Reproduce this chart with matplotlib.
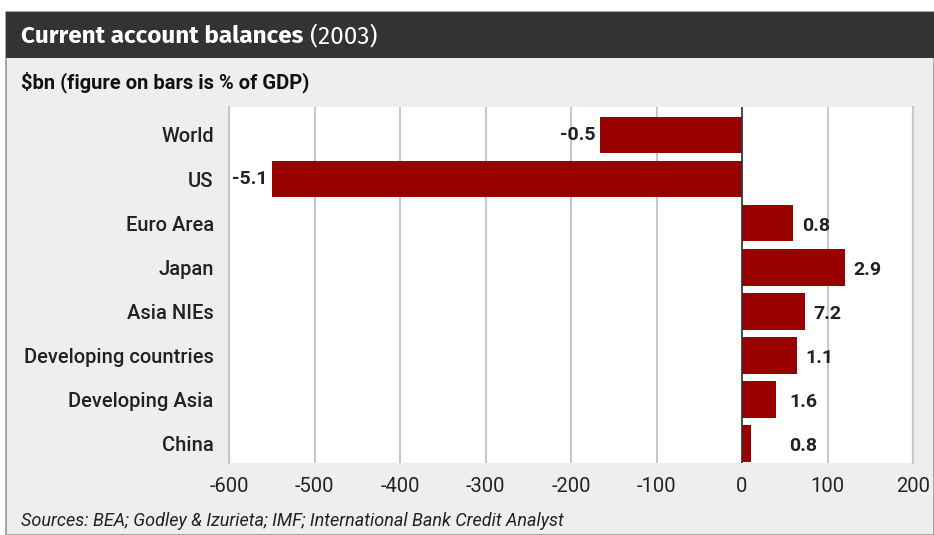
import matplotlib.pyplot as plt
from matplotlib.patches import Rectangle

# data ($bn, label = % of GDP)
countries = ['World', 'US', 'Euro Area', 'Japan', 'Asia NIEs',
             'Developing countries', 'Developing Asia', 'China']
balances = [-166, -550, 60, 120, 74, 64, 40, 10]
pct_gdp = ['-0.5', '-5.1', '0.8', '2.9', '7.2', '1.1', '1.6', '0.8']
x_ticks = [-600, -500, -400, -300, -200, -100, 0, 100, 200]

plt.rcParams['font.family'] = ['Roboto', 'DejaVu Sans']
title_font = ['Fira Sans', 'DejaVu Sans']

W, H = 934, 535
fig = plt.figure(figsize=(W / 100, H / 100), dpi=100)
fig.patch.set_facecolor('white')

def fx(px):
    return px / W

def fy(py):
    return 1 - py / H

# panel background, frame and title bar (behind the axes)
fig.patches.append(Rectangle((fx(6), 0), 1 - fx(6), fy(12), transform=fig.transFigure,
                             facecolor='#eeeeee', edgecolor='#999999', lw=1.2, zorder=-2))
fig.patches.append(Rectangle((fx(6), fy(58)), 1 - fx(6), fy(12) - fy(58), transform=fig.transFigure,
                             facecolor='#333333', edgecolor='none', zorder=-1))

t = fig.text(fx(21), fy(36), 'Current account balances', color='white', fontsize=17.5,
             fontweight='bold', family=title_font, va='center')
r = fig.canvas.get_renderer()
bb = t.get_window_extent(r)
fig.text((bb.x1 + 7) / W, fy(36), '(2003)', color='white', fontsize=17.5,
         family=title_font, va='center')
fig.text(fx(21), fy(82), '$bn (figure on bars is % of GDP)', color='#111111', fontsize=14.5,
         fontweight='bold', va='center')
fig.text(fx(21), fy(521), 'Sources: BEA; Godley & Izurieta; IMF; International Bank Credit Analyst',
         color='#222222', fontsize=13, style='italic', va='center')

ax = fig.add_axes([fx(229), fy(463), fx(913) - fx(229), fy(107) - fy(463)])
ax.set_facecolor('white')

ypos = list(range(len(countries)))
ax.barh(ypos, balances, height=0.83, color='#990000', zorder=3)

for y, v, lab in zip(ypos, balances, pct_gdp):
    if v < 0:
        ax.text(v - 5, y, lab, ha='right', va='center', fontsize=14, fontweight='bold',
                color='#222222', zorder=4)
    else:
        ax.text(max(v, 45) + 10, y + 0.06, lab, ha='left', va='center', fontsize=14,
                fontweight='bold', color='#222222', zorder=4)

ax.set_xlim(-600, 200)
ax.set_ylim(7.44, -0.635)
ax.set_xticks(x_ticks)
ax.set_xticklabels([str(t) for t in x_ticks])
ax.set_yticks(ypos)
ax.set_yticklabels(countries, fontweight='medium')
ax.tick_params(axis='both', length=0, labelsize=14.5, colors='#222222')
ax.tick_params(axis='x', pad=10)
ax.tick_params(axis='y', pad=11)

ax.grid(axis='x', color='#c8c8c8', lw=1.5, zorder=1)
ax.axvline(0, color='#333333', lw=1.2, zorder=4)
for s in ['top', 'bottom']:
    ax.spines[s].set_visible(False)
for s in ['left', 'right']:
    ax.spines[s].set_color('#c8c8c8')
    ax.spines[s].set_linewidth(1.5)

fig.savefig('out.png', dpi=100)
